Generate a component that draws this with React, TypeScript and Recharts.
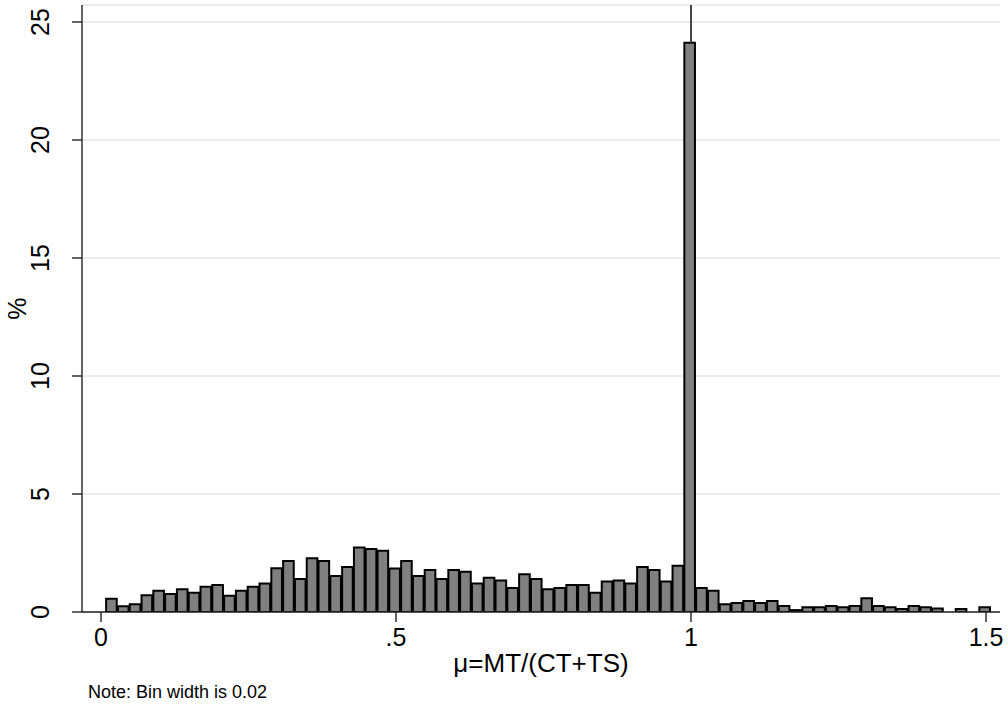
import { Bar, BarChart, CartesianGrid, ReferenceLine, XAxis, YAxis } from "recharts";

// histogram of mu = MT/(CT+TS), percent of observations per 0.02-wide bin
const BIN_START = 0.007;
const BIN_WIDTH = 0.02;
const PERCENT = [
  0.56, 0.24, 0.33, 0.71, 0.9, 0.76, 0.96, 0.82, 1.07, 1.14,
  0.69, 0.9, 1.07, 1.21, 1.85, 2.16, 1.4, 2.28, 2.16, 1.53,
  1.91, 2.73, 2.67, 2.6, 1.84, 2.16, 1.53, 1.78, 1.4, 1.78,
  1.71, 1.21, 1.45, 1.34, 1.02, 1.6, 1.4, 0.96, 1.02, 1.14,
  1.14, 0.82, 1.29, 1.34, 1.21, 1.91, 1.78, 1.29, 1.96, 24.12,
  1.02, 0.9, 0.33, 0.38, 0.47, 0.38, 0.47, 0.25, 0.08, 0.2,
  0.2, 0.25, 0.2, 0.25, 0.58, 0.25, 0.2, 0.13, 0.25, 0.2,
  0.15, 0, 0.13, 0, 0.2,
];
const X_TICKS = [0, 0.5, 1, 1.5];
const X_TICK_LABELS = ["0", ".5", "1", "1.5"];
const Y_TICKS = [0, 5, 10, 15, 20, 25];
const X_DOMAIN: [number, number] = [-0.0322, 1.5237];
const Y_DOMAIN: [number, number] = [0, 25.72];
const MARKER_X = 1;

const data = PERCENT.map((pct, i) => ({ mid: BIN_START + BIN_WIDTH * (i + 0.5), pct }));

const FONT = "'Liberation Sans', Arial, Helvetica, sans-serif";
const W = 1008;
const H = 715;
const PLOT_LEFT = 82;
const PLOT_RIGHT = 1000;
const barPx = ((PLOT_RIGHT - PLOT_LEFT) * BIN_WIDTH) / (X_DOMAIN[1] - X_DOMAIN[0]);

const XTick = ({ x, y, payload }: any) => {
  const idx = X_TICKS.indexOf(payload.value);
  return (
    <text x={x} y={y + 22} textAnchor="middle" fontFamily={FONT} fontSize={25} fill="#000">
      {idx >= 0 ? X_TICK_LABELS[idx] : payload.value}
    </text>
  );
};

const YTick = ({ y, payload }: any) => (
  <text
    x={49}
    y={y}
    transform={`rotate(-90 49 ${y})`}
    textAnchor="middle"
    fontFamily={FONT}
    fontSize={25}
    fill="#000"
  >
    {payload.value}
  </text>
);

export default function App() {
  return (
    <div style={{ position: "absolute", left: 0, top: 0, width: W, height: H, background: "#fff" }}>
      <BarChart
        width={W}
        height={H}
        data={data}
        margin={{ top: 5, right: W - PLOT_RIGHT, left: 0, bottom: 43 }}
        barCategoryGap={0}
        barGap={0}
      >
        <CartesianGrid horizontal vertical={false} stroke="#e6e6e6" strokeWidth={1.5} />
        <XAxis
          dataKey="mid"
          type="number"
          domain={X_DOMAIN}
          ticks={X_TICKS}
          allowDataOverflow
          height={60}
          tickSize={10}
          tick={<XTick />}
          stroke="#222"
          strokeWidth={1.4}
          label={{
            content: ({ viewBox }: any) => (
              <text
                x={viewBox.x + viewBox.width / 2}
                y={viewBox.y + 60}
                textAnchor="middle"
                fontFamily={FONT}
                fontSize={26}
                fill="#000"
              >
                μ=MT/(CT+TS)
              </text>
            ),
          }}
        />
        <YAxis
          type="number"
          domain={Y_DOMAIN}
          ticks={Y_TICKS}
          allowDataOverflow
          width={PLOT_LEFT}
          tickSize={10}
          tick={<YTick />}
          stroke="#222"
          strokeWidth={1.4}
          label={{
            content: ({ viewBox }: any) => {
              const cy = viewBox.y + viewBox.height / 2;
              return (
                <text
                  x={26}
                  y={cy}
                  transform={`rotate(-90 26 ${cy})`}
                  textAnchor="middle"
                  fontFamily={FONT}
                  fontSize={25}
                  fill="#000"
                >
                  %
                </text>
              );
            },
          }}
        />
        <ReferenceLine
          segment={[
            { x: MARKER_X, y: Math.max(...PERCENT) },
            { x: MARKER_X, y: Y_DOMAIN[1] },
          ]}
          stroke="#333"
          strokeWidth={1.8}
        />
        <Bar
          dataKey="pct"
          barSize={barPx}
          fill="#808080"
          stroke="#000"
          strokeWidth={2}
          isAnimationActive={false}
        />
      </BarChart>
      <div
        style={{
          position: "absolute",
          left: 88,
          top: 682,
          fontFamily: FONT,
          fontSize: 18,
          lineHeight: "20px",
          color: "#000",
        }}
      >
        Note: Bin width is 0.02
      </div>
    </div>
  );
}
